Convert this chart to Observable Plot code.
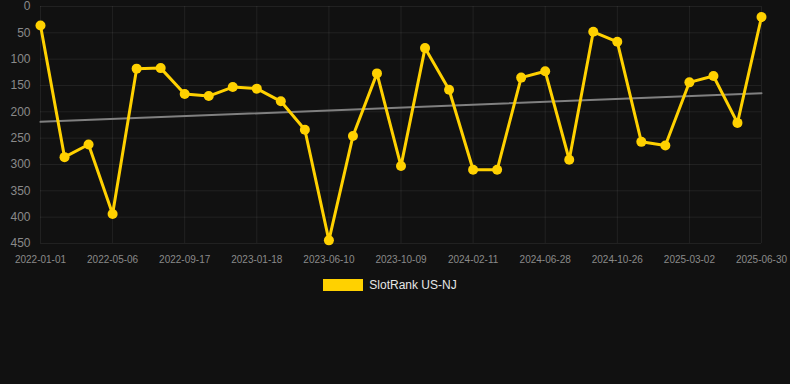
<!DOCTYPE html>
<html>
<head>
<meta charset="utf-8">
<script src="https://cdn.jsdelivr.net/npm/d3@7"></script>
<script src="https://cdn.jsdelivr.net/npm/@observablehq/plot@0.6"></script>
<style>
  html, body { margin: 0; padding: 0; background: #111111; }
  body { width: 790px; height: 384px; overflow: hidden; font-family: "Liberation Sans", Arial, sans-serif; }
  #legend { display: flex; justify-content: center; align-items: center; margin-top: 8px; padding-right: 10px; color: #e6e6e6; font-size: 12px; }
  #legend .sw { width: 40px; height: 12px; background: #FFD100; margin-right: 6px; }
</style>
</head>
<body>
<div id="chart"></div>
<div id="legend"><span class="sw"></span><span>SlotRank US-NJ</span></div>
<script>
// Tick labels shown on the x axis (one every third observation)
const tickLabels = ["2022-01-01", "2022-05-06", "2022-09-17", "2023-01-18", "2023-06-10", "2023-10-09",
                    "2024-02-11", "2024-06-28", "2024-10-26", "2025-03-02", "2025-06-30"];
// Observation index (0..30)
const obsIndex = Array.from({length: 31}, (_, i) => i);
// SlotRank US-NJ values (rank, lower is better)
const rankValues = [36, 286, 262, 394, 118, 117, 166, 170, 153, 156, 180, 234, 444, 246, 127, 303,
                    79, 158, 310, 310, 135, 123, 291, 48, 67, 257, 264, 144, 132, 221, 20];
const yTicks = [0, 50, 100, 150, 200, 250, 300, 350, 400, 450];

const data = obsIndex.map((i) => ({i, v: rankValues[i]}));
const xTicks = tickLabels.map((_, k) => k * 3);

const chart = Plot.plot({
  width: 790,
  height: 270,
  marginLeft: 40,
  marginRight: 29,
  marginTop: 6,
  marginBottom: 27,
  style: {background: "#111111", color: "#8a8a8a", fontFamily: "Liberation Sans, Arial, sans-serif", fontSize: "10px"},
  x: {type: "linear", domain: [0, 30], ticks: xTicks, tickFormat: (d) => tickLabels[d / 3], tickSize: 0, tickPadding: 12, label: null},
  y: {domain: [0, 450], reverse: true, ticks: yTicks, tickSize: 0, tickPadding: 10, label: null},
  marks: [
    Plot.gridY(yTicks, {stroke: "#ffffff", strokeOpacity: 0.07}),
    Plot.gridX(xTicks, {stroke: "#ffffff", strokeOpacity: 0.07}),
    Plot.axisY({ticks: yTicks, tickSize: 0, tickPadding: 10, fontSize: 12, fill: "#8a8a8a"}),
    Plot.axisX({ticks: xTicks, tickFormat: (d) => tickLabels[d / 3], tickSize: 0, tickPadding: 12, fontSize: 10, fill: "#8a8a8a"}),
    Plot.linearRegressionY(data, {x: "i", y: "v", stroke: "#808080", strokeWidth: 2, ci: 0}),
    Plot.line(data, {x: "i", y: "v", stroke: "#FFD100", strokeWidth: 3}),
    Plot.dot(data, {x: "i", y: "v", fill: "#FFD100", r: 5})
  ]
});
document.getElementById("chart").appendChild(chart);
</script>
</body>
</html>
